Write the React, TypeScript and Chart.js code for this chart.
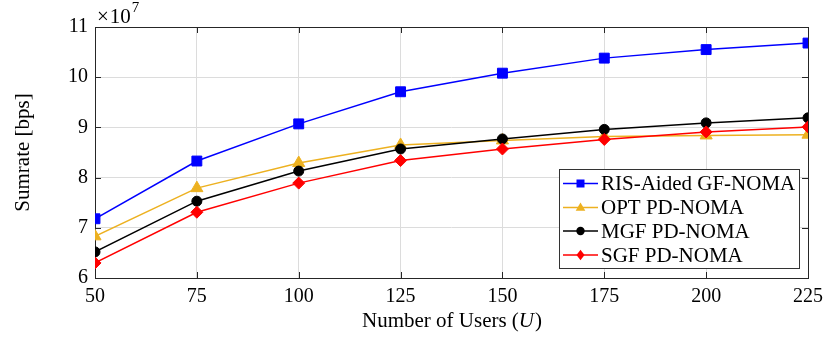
import React, { useEffect, useRef } from "react";
import { Chart, registerables } from "chart.js";

Chart.register(...registerables);

const users = [50, 75, 100, 125, 150, 175, 200, 225];
const risAidedGF = [7.18e7, 8.33e7, 9.07e7, 9.71e7, 10.08e7, 10.38e7, 10.55e7, 10.68e7];
const optPD = [6.83e7, 7.79e7, 8.29e7, 8.65e7, 8.74e7, 8.82e7, 8.84e7, 8.855e7];
const mgfPD = [6.52e7, 7.53e7, 8.13e7, 8.57e7, 8.77e7, 8.96e7, 9.09e7, 9.19e7];
const sgfPD = [6.3e7, 7.31e7, 7.89e7, 8.34e7, 8.57e7, 8.76e7, 8.91e7, 9.01e7];
const yTicks = [6e7, 7e7, 8e7, 9e7, 10e7, 11e7];

const seriesLabels = ["RIS-Aided GF-NOMA", "OPT PD-NOMA", "MGF PD-NOMA", "SGF PD-NOMA"];
const seriesColors = ["#0000ff", "#edb120", "#000000", "#ff0000"];
const seriesMarkers = ["rect", "triangle", "circle", "rectRot"];
const seriesValues = [risAidedGF, optPD, mgfPD, sgfPD];

const FONT = "'Liberation Serif', 'Times New Roman', serif";

function drawMarker(ctx: CanvasRenderingContext2D, kind: string, x: number, y: number, s: number, color: string) {
  ctx.save();
  ctx.fillStyle = color;
  ctx.beginPath();
  if (kind === "rect") {
    ctx.rect(x - s, y - s, 2 * s, 2 * s);
  } else if (kind === "triangle") {
    ctx.moveTo(x, y - s * 1.25);
    ctx.lineTo(x + s * 1.2, y + s * 0.8);
    ctx.lineTo(x - s * 1.2, y + s * 0.8);
    ctx.closePath();
  } else if (kind === "circle") {
    ctx.arc(x, y, s * 1.05, 0, Math.PI * 2);
  } else {
    ctx.moveTo(x, y - s * 1.3);
    ctx.lineTo(x + s, y);
    ctx.lineTo(x, y + s * 1.3);
    ctx.lineTo(x - s, y);
    ctx.closePath();
  }
  ctx.fill();
  ctx.restore();
}

const decorPlugin = {
  id: "decor",
  beforeDatasetsDraw(chart: any) {
    const ctx: CanvasRenderingContext2D = chart.ctx;
    const { left, right, top, bottom } = chart.chartArea;
    const xs = chart.scales.x;
    const ys = chart.scales.y;
    ctx.save();
    ctx.strokeStyle = "#262626";
    ctx.lineWidth = 1;
    const tl = 6;
    ctx.beginPath();
    for (const u of users) {
      const px = Math.round(xs.getPixelForValue(u)) + 0.5;
      ctx.moveTo(px, bottom);
      ctx.lineTo(px, bottom - tl);
      ctx.moveTo(px, top);
      ctx.lineTo(px, top + tl);
    }
    for (const v of yTicks) {
      const py = Math.round(ys.getPixelForValue(v)) + 0.5;
      ctx.moveTo(left, py);
      ctx.lineTo(left + tl, py);
      ctx.moveTo(right, py);
      ctx.lineTo(right - tl, py);
    }
    ctx.stroke();
    ctx.strokeRect(Math.round(left) + 0.5, Math.round(top) + 0.5, Math.round(right - left), Math.round(bottom - top));
    ctx.restore();
  },
  afterDraw(chart: any) {
    const ctx: CanvasRenderingContext2D = chart.ctx;
    const { left, right, bottom } = chart.chartArea;
    ctx.save();
    // exponent label
    ctx.fillStyle = "#000";
    ctx.textBaseline = "alphabetic";
    ctx.textAlign = "left";
    ctx.font = `21px ${FONT}`;
    ctx.fillText("\u00d7", 97, 23);
    const wx = ctx.measureText("\u00d7").width;
    ctx.fillText("10", 97 + wx + 1, 23);
    const w10 = ctx.measureText("10").width;
    ctx.font = `15px ${FONT}`;
    ctx.fillText("7", 97 + wx + 1 + w10 + 1, 12);

    // x axis title with italic U
    const cx = (left + right) / 2;
    const ty = bottom + 49;
    const p1 = "Number of Users (";
    const p2 = "U";
    const p3 = ")";
    ctx.font = `21px ${FONT}`;
    const w1 = ctx.measureText(p1).width;
    const w3 = ctx.measureText(p3).width;
    ctx.font = `italic 21px ${FONT}`;
    const w2 = ctx.measureText(p2).width;
    const x0 = cx - (w1 + w2 + w3) / 2;
    ctx.font = `21px ${FONT}`;
    ctx.fillText(p1, x0, ty);
    ctx.font = `italic 21px ${FONT}`;
    ctx.fillText(p2, x0 + w1, ty);
    ctx.font = `21px ${FONT}`;
    ctx.fillText(p3, x0 + w1 + w2 + 1, ty);

    // legend
    const lx = 559.5, ly = 169.5, lw = 240, lh = 99;
    ctx.fillStyle = "#ffffff";
    ctx.fillRect(lx, ly, lw, lh);
    ctx.strokeStyle = "#333333";
    ctx.lineWidth = 1;
    ctx.strokeRect(lx, ly, lw, lh);
    const rows = [183.5, 207.5, 231, 255];
    seriesLabels.forEach((lab, i) => {
      const y = rows[i];
      ctx.strokeStyle = seriesColors[i];
      ctx.lineWidth = 1.5;
      ctx.beginPath();
      ctx.moveTo(563, y);
      ctx.lineTo(598, y);
      ctx.stroke();
      drawMarker(ctx, seriesMarkers[i], 580.5, y, 4, seriesColors[i]);
      ctx.fillStyle = "#000";
      ctx.font = `21px ${FONT}`;
      ctx.textBaseline = "middle";
      ctx.fillText(lab, 601, y + 1);
    });
    ctx.restore();
  },
};

export default function App() {
  const ref = useRef<HTMLCanvasElement>(null);
  useEffect(() => {
    if (!ref.current) return;
    const radii = [7, 7, 5, 6];
    const chart = new Chart(ref.current, {
      type: "line",
      data: {
        datasets: seriesValues.map((vals, i) => ({
          label: seriesLabels[i],
          data: users.map((u, j) => ({ x: u, y: vals[j] })),
          borderColor: seriesColors[i],
          backgroundColor: seriesColors[i],
          pointBackgroundColor: seriesColors[i],
          pointBorderColor: seriesColors[i],
          pointBorderWidth: 1,
          pointStyle: seriesMarkers[i] as any,
          pointRadius: radii[i],
          borderWidth: 1.5,
          tension: 0,
          order: 3 - i,
        })),
      },
      options: {
        animation: false,
        responsive: false,
        devicePixelRatio: 1,
        layout: { padding: { left: 0, right: 21, top: 27, bottom: 0 } },
        plugins: { legend: { display: false }, tooltip: { enabled: false } },
        scales: {
          x: {
            type: "linear",
            min: 50,
            max: 225,
            afterBuildTicks: (scale: any) => {
              scale.ticks = users.map((u) => ({ value: u }));
            },
            afterFit: (scale: any) => {
              scale.height = 65;
            },
            grid: { color: "#dcdcdc", drawTicks: false, lineWidth: 1 },
            border: { display: false },
            ticks: {
              color: "#000",
              padding: 7,
              maxRotation: 0,
              font: { family: FONT, size: 20 },
            },
          },
          y: {
            type: "linear",
            min: 6e7,
            max: 11e7,
            afterBuildTicks: (scale: any) => {
              scale.ticks = yTicks.map((v) => ({ value: v }));
            },
            afterFit: (scale: any) => {
              scale.width = 95;
            },
            grid: { color: "#dcdcdc", drawTicks: false, lineWidth: 1 },
            border: { display: false },
            ticks: {
              color: "#000",
              padding: 7,
              font: { family: FONT, size: 20 },
              callback: (v: any) => String(Math.round(Number(v) / 1e7)),
            },
            title: {
              display: true,
              text: "Sumrate [bps]",
              color: "#000",
              font: { family: FONT, size: 21 },
              padding: { top: 11, bottom: 0 },
            },
          },
        },
      },
      plugins: [decorPlugin],
    });
    return () => chart.destroy();
  }, []);
  return (
    <div style={{ position: "fixed", left: 0, top: 0, width: 830, height: 343, background: "#fff" }}>
      <canvas ref={ref} width={830} height={343} style={{ width: 830, height: 343, display: "block" }} />
    </div>
  );
}
